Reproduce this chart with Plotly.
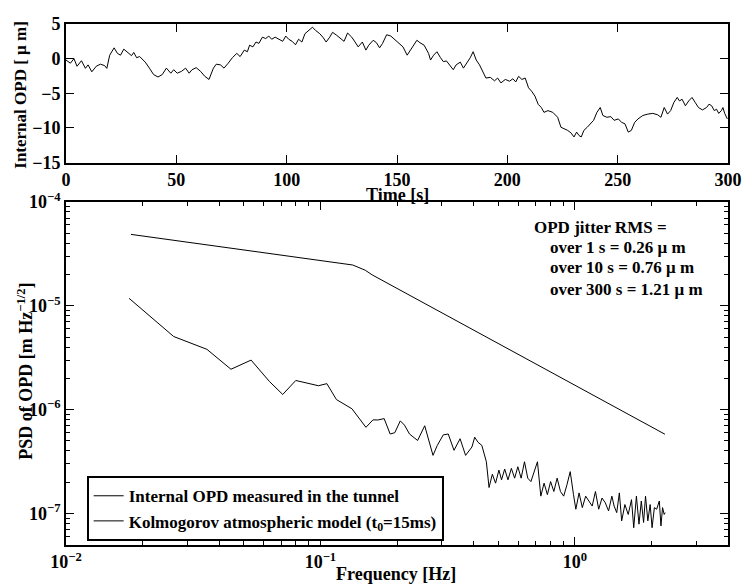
import plotly.graph_objects as go

# ---------------- data: top panel (internal OPD time series) ----------------
time_s = [0, 2, 3.6, 5, 7, 8.8, 10, 11.7, 13.7, 15.6, 17.5, 18.5, 19.8, 21.8, 23.3, 24.7, 26.2, 28.2,
          29.7, 30.7, 32, 33.4, 35.9, 37.8, 39.7, 41.7, 43.6, 45.5, 47.5, 48.8, 50.4, 52.3, 54.2, 55.8,
          57.1, 59, 61, 62.9, 64.8, 66.8, 68.1, 70, 71.6, 73.5, 75.4, 77.4, 78.9, 80.8, 82.2, 83.2,
          84.7, 86.1, 87.4, 89, 90.5, 91.9, 93.2, 94.8, 96.7, 98.2, 99.6, 100.9, 102.5, 104, 105.4,
          106.9, 108.3, 110.2, 111.7, 113.1, 115, 116.4, 117.9, 119.5, 120.8, 122.7, 124.7, 126,
          127.6, 129.5, 131, 132.4, 134.3, 135.9, 137.2, 139.2, 140.7, 142.1, 143.4, 145.3, 147.2,
          148.8, 150.7, 152.7, 154.6, 156.1, 157.5, 159, 160.4, 162.3, 164.3, 165.2, 166.6, 168.1,
          169.7, 171, 172.4, 173.9, 175.5, 176.8, 178.7, 180.1, 181.6, 183.2, 184.5, 185.9, 187.4,
          189, 190.3, 192.3, 194.2, 195.6, 197.1, 199.1, 201, 202.5, 203.8, 205.1, 206.6, 208.1,
          209.6, 211.0, 212.5, 214.0, 215.4, 216.6, 218.4, 220.6, 222.8, 224.3, 225.8, 227.3, 228.8,
          230.2, 231.4, 232.5, 233.5, 234.7, 236.2, 237.7, 239.1, 240.6, 242.1, 243.3, 245.1, 246.9,
          248.4, 250.3, 251.8, 253.3, 254.8, 256.2, 257.7, 259.2, 261.4, 263.7, 265.9, 268.1, 269.6,
          271.1, 272.6, 274.0, 275.5, 277.0, 278.0, 279.2, 280.7, 282.2, 283.7, 285.1, 286.6, 288.4,
          290.3, 291.4, 292.6, 293.8, 294.8, 295.8, 297.0, 297.7, 298.5, 299.7]
opd_um = [-0.2, -0.66, 0, -1.1, -0.3, -1.4, -0.9, -1.9, -1.1, -0.8, -1.0, -1.4, 0.5, 1.56, 0.76, 0.5,
          1.37, 0.76, 0.43, 0.9, 0.14, 0.3, -0.5, -1.37, -2.3, -2.65, -2.3, -1.37, -2.1, -1.6, -2.1,
          -1.84, -1.37, -2.1, -1.6, -1.3, -1.84, -2.55, -3.0, -1.37, -0.8, -0.9, -1.37, -0.66, 0.14,
          0.76, 0.3, 1.23, 1.0, 1.94, 1.7, 2.4, 2.2, 3.1, 2.9, 3.26, 2.8, 3.1, 2.8, 2.5, 3.26, 2.8,
          2.5, 2.0, 2.8, 2.4, 3.6, 4.07, 4.54, 4.07, 3.6, 3.1, 2.4, 3.1, 3.8, 3.36, 2.9, 2.5, 3.7,
          3.1, 2.4, 1.7, 2.4, 1.23, 1.94, 2.65, 2.3, 1.56, 2.17, 3.45, 3.26, 2.8, 2.3, 1.7, 0.5, 1.23,
          1.94, 2.65, 2.3, 1.94, 0.76, -0.2, 0.5, 1.0, 0.14, -0.43, -0.33, -0.9, -1.6, -0.9, -0.5,
          -1.37, -0.66, 0.14, 1.0, -0.2, -0.9, -1.84, -2.8, -2.7, -3.2, -2.8, -3.5, -3.0, -3.26, -2.9,
          -3.36, -2.55, -3.0, -2.8, -4.2, -4.7, -5.4, -6.6, -7.05, -7.75, -7.5, -7.75, -8.46, -9.9,
          -10.1, -10.35, -10.7, -11.3, -10.6, -11.1, -11.3, -10.35, -9.9, -9.4, -8.9, -7.75, -7.05,
          -8.2, -8.46, -8.37, -8.9, -8.7, -9.2, -9.4, -10.6, -10.35, -9.2, -8.7, -8.2, -8.0, -7.9,
          -8.1, -8.46, -7.05, -8.0, -7.5, -6.3, -5.6, -6.1, -5.86, -6.8, -6.1, -5.6, -6.3, -7.05,
          -7.4, -7.05, -6.57, -6.8, -7.5, -7.3, -7.9, -7.5, -7.05, -7.9, -8.7]

# ---------------- data: bottom panel (PSD of OPD) ----------------
meas_freq = [0.0177, 0.0265, 0.0358, 0.0445, 0.0534, 0.063, 0.0711, 0.080, 0.0982, 0.106, 0.1156,
             0.133, 0.151, 0.161, 0.168, 0.178, 0.188, 0.196, 0.206, 0.214, 0.224, 0.241, 0.257,
             0.277, 0.288, 0.304, 0.318, 0.335, 0.354, 0.372, 0.394, 0.404, 0.416, 0.431, 0.449,
             0.460, 0.474, 0.488, 0.503, 0.515, 0.530, 0.546, 0.563, 0.580, 0.597, 0.615, 0.634,
             0.653, 0.672, 0.693, 0.713, 0.735, 0.757, 0.780, 0.803, 0.827, 0.852, 0.878, 0.904,
             0.931, 0.959, 0.988, 1.009, 1.039, 1.070, 1.103, 1.136, 1.170, 1.205, 1.241, 1.279,
             1.317, 1.357, 1.398, 1.427, 1.461, 1.496, 1.528, 1.573, 1.621, 1.670, 1.704, 1.746,
             1.787, 1.825, 1.863, 1.896, 1.936, 1.977, 2.012, 2.054, 2.097, 2.148, 2.180, 2.212,
             2.245, 2.265]
meas_psd = [1.18e-5, 5.06e-6, 3.81e-6, 2.45e-6, 3.0e-6, 1.87e-6, 1.40e-6, 1.91e-6, 1.70e-6, 1.78e-6,
            1.25e-6, 1.02e-6, 6.76e-7, 7.98e-7, 7.95e-7, 8.2e-7, 5.83e-7, 6.0e-7, 7.8e-7, 7.1e-7,
            5.83e-7, 5.05e-7, 7.0e-7, 3.63e-7, 4.53e-7, 5.72e-7, 5.83e-7, 4.06e-7, 5.25e-7, 3.63e-7,
            4.37e-7, 5.43e-7, 4.86e-7, 4.53e-7, 3.15e-7, 1.78e-7, 2.39e-7, 1.96e-7, 2.62e-7, 2.11e-7,
            2.68e-7, 2.11e-7, 2.72e-7, 2.19e-7, 2.82e-7, 2.19e-7, 3.15e-7, 2.19e-7, 2.03e-7, 2.62e-7,
            3.15e-7, 1.47e-7, 1.96e-7, 1.52e-7, 2.03e-7, 1.63e-7, 2.19e-7, 1.63e-7, 1.47e-7, 1.89e-7,
            2.53e-7, 1.52e-7, 1.10e-7, 1.58e-7, 1.14e-7, 1.47e-7, 1.32e-7, 1.18e-7, 1.63e-7, 1.10e-7,
            1.41e-7, 1.27e-7, 1.06e-7, 1.47e-7, 1.18e-7, 1.02e-7, 1.58e-7, 8.5e-8, 1.22e-7, 9.8e-8,
            1.36e-7, 7.3e-8, 1.47e-7, 7.9e-8, 1.32e-7, 8.2e-8, 1.47e-7, 8.5e-8, 1.22e-7, 7.3e-8,
            1.14e-7, 1.10e-7, 1.32e-7, 7.6e-8, 1.14e-7, 9.8e-8, 1.02e-7]

kolmo_freq = [0.018, 0.12, 0.134, 0.15, 0.16, 2.26]
kolmo_psd = [4.87e-5, 2.58e-5, 2.47e-5, 2.20e-5, 1.98e-5, 5.8e-7]

rms_lines = ["over 1 s = 0.26 μ m", "over 10 s = 0.76 μ m", "over 300 s = 1.21 μ m"]

FONT = "Liberation Serif, Times New Roman, serif"

fig = go.Figure()
fig.add_trace(go.Scatter(x=time_s, y=opd_um, mode="lines", line=dict(color="black", width=1),
                         showlegend=False, xaxis="x", yaxis="y"))
fig.add_trace(go.Scatter(x=meas_freq, y=meas_psd, mode="lines", line=dict(color="black", width=1),
                         name="Internal OPD measured in the tunnel", xaxis="x2", yaxis="y2"))
fig.add_trace(go.Scatter(x=kolmo_freq, y=kolmo_psd, mode="lines", line=dict(color="black", width=1),
                         name="Kolmogorov atmospheric model (t<sub>0</sub>=15ms)", xaxis="x2", yaxis="y2"))

axis_common = dict(showline=True, linecolor="black", linewidth=1.6, mirror="ticks",
                   ticks="inside", ticklen=8, tickwidth=1.2, tickcolor="black",
                   showgrid=False, zeroline=False, tickfont=dict(size=18))

decades = [1e-2, 1e-1, 1e0]
minor_x = [m * d for d in decades for m in range(2, 10) if m * d < 4.0]
ydec = [1e-8, 1e-7, 1e-6, 1e-5]
minor_y = [m * d for d in ydec for m in range(2, 10) if 5e-8 <= m * d < 1e-4]

fig.update_layout(
    width=754, height=586,
    margin=dict(l=66, r=14, t=15, b=41),
    paper_bgcolor="white", plot_bgcolor="white",
    font=dict(family=FONT, size=18, color="black", weight="bold"),
    xaxis=dict(domain=[0, 1], anchor="y", range=[0, 300], tickvals=[0, 50, 100, 150, 200, 250, 300],
               **axis_common),
    yaxis=dict(domain=[0.734, 1.0], anchor="x", range=[-15, 5], tickvals=[-15, -10, -5, 0, 5],
               **axis_common),
    xaxis2=dict(domain=[0, 1], anchor="y2", type="log", range=[-2, 0.602],
                tickvals=decades, ticktext=["10<sup>−2</sup>", "10<sup>−1</sup>", "10<sup>0</sup>"],
                minor=dict(tickvals=minor_x, ticks="inside", ticklen=4, tickcolor="black", tickwidth=1),
                **axis_common),
    yaxis2=dict(domain=[0, 0.6585], anchor="x2", type="log", range=[-7.303, -4],
                tickvals=[1e-7, 1e-6, 1e-5, 1e-4],
                ticktext=["10<sup>−7</sup>", "10<sup>−6</sup>", "10<sup>−5</sup>", "10<sup>−4</sup>"],
                minor=dict(tickvals=minor_y, ticks="inside", ticklen=4, tickcolor="black", tickwidth=1),
                **axis_common),
    legend=dict(x=0.0312, y=0.132, xanchor="left", yanchor="top", bgcolor="white",
                bordercolor="black", borderwidth=2, font=dict(size=17), tracegroupgap=0),
    showlegend=True,
)

ann = []
ann.append(dict(text="Time [s]", x=0.5, y=0.6717, xref="paper", yref="paper", showarrow=False,
                xanchor="center", yanchor="middle", font=dict(size=18)))
ann.append(dict(text="Frequency [Hz]", x=0.4985, y=-0.0566, xref="paper", yref="paper", showarrow=False,
                xanchor="center", yanchor="middle"))
ann.append(dict(text="Internal OPD [ μ m]", x=-0.0682, y=0.864, xref="paper", yref="paper",
                showarrow=False, textangle=-90, xanchor="center", yanchor="middle", font=dict(size=17)))
ann.append(dict(text="PSD of OPD [m Hz<sup>−1/2</sup>]", x=-0.0608, y=0.334, xref="paper", yref="paper",
                showarrow=False, textangle=-90, xanchor="center", yanchor="middle"))
ann.append(dict(text="OPD jitter RMS =", x=0.7033, y=0.6094, xref="paper", yref="paper",
                showarrow=False, xanchor="left", yanchor="middle", font=dict(size=17)))
for line, yy in zip(rms_lines, [0.5717, 0.5321, 0.4906]):
    ann.append(dict(text=line, x=0.7285, y=yy, xref="paper", yref="paper", showarrow=False,
                    xanchor="left", yanchor="middle", font=dict(size=17)))
fig.update_layout(annotations=ann)

fig.write_html("out.html")
